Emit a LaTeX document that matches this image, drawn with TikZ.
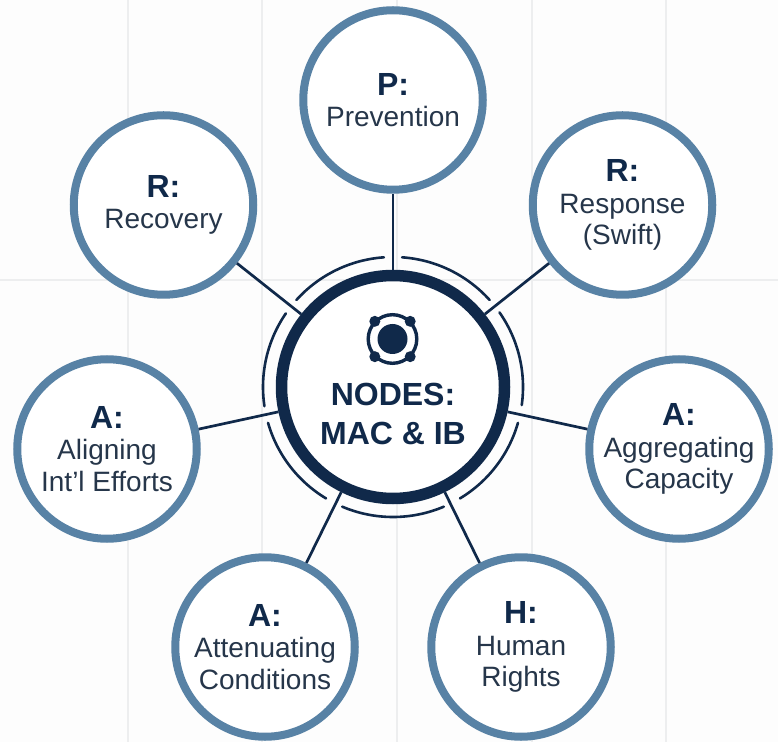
\documentclass[tikz,border=0pt]{standalone}
\usepackage{fontspec}
\setmainfont{Liberation Sans}
\definecolor{navy}{HTML}{10294A}
\definecolor{steel}{HTML}{5882A5}
\definecolor{bodyink}{HTML}{26364A}
\definecolor{gridline}{HTML}{EDEEEF}
\definecolor{paper}{HTML}{FDFDFD}
\tikzset{
  spoke/.style={circle, draw=steel, line width=8pt, fill=white, minimum size=179.5pt, inner sep=0pt,
    align=center, text=bodyink, font=\fontsize{28}{31.5}\selectfont},
  hubring/.style={circle, draw=navy, line width=11.5pt, fill=white, minimum size=223pt, inner sep=0pt},
  hubtext/.style={align=center, text=navy, inner sep=0pt, font=\fontsize{32}{39}\selectfont\bfseries},
  link/.style={draw=navy, line width=2.7pt},
  halo/.style={draw=navy, line width=2.6pt, line cap=round},
  gridrule/.style={draw=gridline, line width=1.6pt}
}
\newcommand{\head}[1]{{\fontsize{32}{33}\selectfont\bfseries\color{navy}#1}}
\begin{document}
\begin{tikzpicture}[x=1pt, y=1pt]
    \useasboundingbox (0,0) rectangle (778,742);
    \fill[paper] (0,0) rectangle (778,742);

    % Faint background rules
    \draw[gridrule] (128,0) -- (128,742);
    \draw[gridrule] (262,0) -- (262,742);
    \draw[gridrule] (397,0) -- (397,742);
    \draw[gridrule] (532,0) -- (532,742);
    \draw[gridrule] (666,0) -- (666,742);
    \draw[gridrule] (0,462) -- (778,462);

    % Centre
    \node[hubring] (hub) at (393,355) {};
    \node[hubtext] (hublabel) at (393,328) {NODES:\\MAC \& IB};

    % Outer circles
    \node[spoke] (prevention) at (393,642) {\head{P:}\\Prevention};
    \node[spoke] (response) at (622.5,537) {\head{R:}\\Response\\(Swift)};
    \node[spoke] (aggregating) at (679,293) {\head{A:}\\Aggregating\\Capacity};
    \node[spoke] (rights) at (521,95) {\head{H:}\\Human\\Rights};
    \node[spoke] (attenuating) at (265,95) {\head{A:}\\Attenuating\\Conditions};
    \node[spoke] (aligning) at (107,293) {\head{A:}\\Aligning\\Int'l Efforts};
    \node[spoke] (recovery) at (163.5,537) {\head{R:}\\Recovery};

    % Connectors
    \draw[link] (hub) -- (prevention);
    \draw[link] (hub) -- (response);
    \draw[link] (hub) -- (aggregating);
    \draw[link] (hub) -- (rights);
    \draw[link] (hub) -- (attenuating);
    \draw[link] (hub) -- (aligning);
    \draw[link] (hub) -- (recovery);

    % Broken ring round the centre
    \draw[halo] ([shift={(94:130)}]hub.center) arc (94:138:130);
    \draw[halo] ([shift={(42:130)}]hub.center) arc (42:86:130);
    \draw[halo] ([shift={(-8:130)}]hub.center) arc (-8:35:130);
    \draw[halo] ([shift={(-59:130)}]hub.center) arc (-59:-16:130);
    \draw[halo] ([shift={(-113:130)}]hub.center) arc (-113:-67:130);
    \draw[halo] ([shift={(-164:130)}]hub.center) arc (-164:-121:130);
    \draw[halo] ([shift={(145.5:130)}]hub.center) arc (145.5:188.5:130);

    % Icon
    \coordinate (icon) at (392.5,403);
    \fill[navy] (icon) circle (15);
    \draw[navy, line width=3.4pt] (icon) circle (24.3);
    \fill[navy] (icon) ++(45:25) circle (5.5);
    \fill[navy] (icon) ++(135:25) circle (5.5);
    \fill[navy] (icon) ++(225:25) circle (5.5);
    \fill[navy] (icon) ++(-45:25) circle (5.5);
\end{tikzpicture}
\end{document}
